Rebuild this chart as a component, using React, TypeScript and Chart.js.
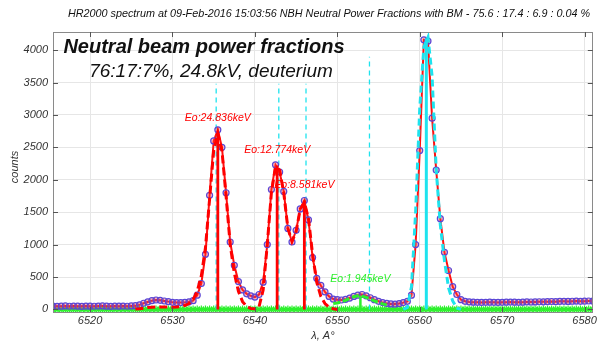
import React, { useEffect, useRef } from "react";
import { Chart, registerables } from "chart.js";

Chart.register(...registerables);

// Measured spectrum (wavelength in Angstrom, counts)
const spectrumLambda = [
  6515.5, 6516.0, 6516.5, 6517.0, 6517.5, 6518.0, 6518.5, 6519.0, 6519.5, 6520.0,
  6520.5, 6521.0, 6521.5, 6522.0, 6522.5, 6523.0, 6523.5, 6524.0, 6524.5, 6525.0,
  6525.5, 6526.0, 6526.5, 6527.0, 6527.5, 6528.0, 6528.5, 6529.0, 6529.5, 6530.0,
  6530.5, 6531.0, 6531.5, 6532.0, 6532.5, 6533.0, 6533.5, 6534.0, 6534.5, 6535.0,
  6535.5, 6536.0, 6536.5, 6537.0, 6537.5, 6538.0, 6538.5, 6539.0, 6539.5, 6540.0,
  6540.5, 6541.0, 6541.5, 6542.0, 6542.5, 6543.0, 6543.5, 6544.0, 6544.5, 6545.0,
  6545.5, 6546.0, 6546.5, 6547.0, 6547.5, 6548.0, 6548.5, 6549.0, 6549.5, 6550.0,
  6550.5, 6551.0, 6551.5, 6552.0, 6552.5, 6553.0, 6553.5, 6554.0, 6554.5, 6555.0,
  6555.5, 6556.0, 6556.5, 6557.0, 6557.5, 6558.0, 6558.5, 6559.0, 6559.5, 6560.0,
  6560.5, 6561.0, 6561.5, 6562.0, 6562.5, 6563.0, 6563.5, 6564.0, 6564.5, 6565.0,
  6565.5, 6566.0, 6566.5, 6567.0, 6567.5, 6568.0, 6568.5, 6569.0, 6569.5, 6570.0,
  6570.5, 6571.0, 6571.5, 6572.0, 6572.5, 6573.0, 6573.5, 6574.0, 6574.5, 6575.0,
  6575.5, 6576.0, 6576.5, 6577.0, 6577.5, 6578.0, 6578.5, 6579.0, 6579.5, 6580.0,
  6580.5, 6581.0,
];
const spectrumCounts = [
  52, 48, 50, 53, 49, 51, 50, 47, 52, 50,
  49, 51, 53, 50, 48, 52, 50, 51, 49, 53,
  58, 70, 95, 115, 135, 145, 140, 130, 120, 110,
  105, 105, 108, 117, 135, 220, 400, 850, 1760, 2600,
  2770, 2500, 1800, 1040, 680, 430, 300, 240, 210, 190,
  230, 420, 1000, 1850, 2230, 2120, 1820, 1250, 1040, 1220,
  1550, 1680, 1380, 800, 480, 370, 270, 200, 160, 150,
  145, 155, 175, 200, 220, 230, 210, 180, 150, 125,
  105, 93, 85, 82, 90, 105, 125, 220, 1000, 2450,
  4160, 4140, 2950, 2150, 1400, 880, 600, 350, 230, 150,
  125, 115, 112, 110, 108, 110, 112, 110, 108, 110,
  111, 113, 112, 110, 112, 115, 114, 116, 118, 117,
  120, 122, 120, 124, 125, 123, 126, 128, 125, 127,
  130, 128,
];
// Zero baseline (green stars)
const baselineCounts = [
  0, 0, 0, 0, 0, 0, 0, 0, 0, 0,
  0, 0, 0, 0, 0, 0, 0, 0, 0, 0,
  0, 0, 0, 0, 0, 0, 0, 0, 0, 0,
  0, 0, 0, 0, 0, 0, 0, 0, 0, 0,
  0, 0, 0, 0, 0, 0, 0, 0, 0, 0,
  0, 0, 0, 0, 0, 0, 0, 0, 0, 0,
  0, 0, 0, 0, 0, 0, 0, 0, 0, 0,
  0, 0, 0, 0, 0, 0, 0, 0, 0, 0,
  0, 0, 0, 0, 0, 0, 0, 0, 0, 0,
  0, 0, 0, 0, 0, 0, 0, 0, 0, 0,
  0, 0, 0, 0, 0, 0, 0, 0, 0, 0,
  0, 0, 0, 0, 0, 0, 0, 0, 0, 0,
  0, 0, 0, 0, 0, 0, 0, 0, 0, 0,
  0, 0,
];

// Beam components fit (red dashed)
const beamFitLambda = [
  6525.5, 6526.0, 6526.5, 6527.0, 6527.5, 6528.0, 6528.5, 6529.0, 6529.5, 6530.0,
  6530.5, 6531.0, 6531.5, 6532.0, 6532.5, 6533.0, 6533.5, 6534.0, 6534.5, 6535.0,
  6535.5, 6536.0, 6536.5, 6537.0, 6537.5, 6538.0, 6538.5, 6539.0, 6539.5, 6540.0,
  6540.5, 6541.0, 6541.5, 6542.0, 6542.5, 6543.0, 6543.5, 6544.0, 6544.5, 6545.0,
  6545.5, 6546.0, 6546.5, 6547.0, 6547.5, 6548.0, 6548.5, 6549.0, 6549.5, 6550.0,
];
const beamFitCounts = [
  5, 10, 20, 30, 35, 38, 38, 36, 35, 35,
  38, 45, 60, 90, 150, 280, 520, 950, 1700, 2450,
  2720, 2450, 1750, 1000, 560, 280, 120, 45, 15, 10,
  40, 300, 1000, 1800, 2200, 2150, 1800, 1250, 1050, 1200,
  1550, 1650, 1400, 850, 420, 200, 90, 35, 10, 0,
];

// D-alpha fit (cyan dashed)
const alphaFitLambda = [
  6558.0, 6558.5, 6559.0, 6559.5, 6560.0, 6560.5, 6561.0, 6561.5,
  6562.0, 6562.5, 6563.0, 6563.5, 6564.0, 6564.5, 6565.0,
];
const alphaFitCounts = [
  0, 30, 350, 1500, 3100, 4050, 4200, 3600,
  2150, 1300, 750, 330, 130, 20, 0,
];

// Low energy component fit (green)
const lowFitLambda = [
  6549.5, 6550.0, 6550.5, 6551.0, 6551.5, 6552.0, 6552.5,
  6553.0, 6553.5, 6554.0, 6554.5, 6555.0, 6555.5, 6556.0,
];
const lowFitCounts = [
  90, 100, 115, 140, 170, 195, 210,
  205, 185, 160, 130, 105, 85, 70,
];

// Fitted peak centres
const peakLambda = [6535.5, 6542.7, 6546.0];
const peakCounts = [2720, 2220, 1680];
const peakLabels = ["Eo:24.836keV", "Eo:12.774keV", "Eo:8.581keV"];
const expectedLambda = [6535.3, 6542.9, 6546.2, 6553.9];
const expectedCounts = [3480, 3480, 3480, 3900];
const alphaLambda = [6560.8];
const alphaCounts = [4180];
const lowLambda = [6552.8];
const lowCounts = [210];
const lowLabels = ["Eo:1.945keV"];

const xTicks = [6520, 6530, 6540, 6550, 6560, 6570, 6580];
const yTicks = [0, 500, 1000, 1500, 2000, 2500, 3000, 3500, 4000];

const titleText =
  "HR2000 spectrum at 09-Feb-2016 15:03:56 NBH Neutral Power Fractions with BM - 75.6 : 17.4 : 6.9 : 0.04 %";
const headline = "Neutral beam power fractions";
const subline = "76:17:7%, 24.8kV, deuterium";
const xTitle = "λ, A°";
const yTitle = "counts";

const FONT = '"Liberation Sans", Arial, sans-serif';
const RED = "#ff0000";
const CYAN = "#1ee3ee";
const GREEN = "#2cf02c";

const pts = (xs: number[], ys: number[]) => xs.map((x, i) => ({ x, y: ys[i] }));
const vline = (x: number, top: number) => [
  { x, y: 0 },
  { x, y: top },
];

const overlay = {
  id: "overlay",
  afterDraw(chart: any) {
    const { ctx, chartArea: a, scales } = chart;
    const xs = scales.x;
    const ys = scales.y;
    ctx.save();
    // frame
    ctx.strokeStyle = "#8a8a8a";
    ctx.lineWidth = 1;
    ctx.strokeRect(Math.round(a.left) + 0.5, Math.round(a.top) + 0.5, Math.round(a.right - a.left) - 1, Math.round(a.bottom - a.top));
    ctx.strokeStyle = "#555";
    ctx.beginPath();
    xTicks.forEach((v) => {
      const px = Math.round(xs.getPixelForValue(v)) + 0.5;
      ctx.moveTo(px, a.bottom);
      ctx.lineTo(px, a.bottom - 5);
      ctx.moveTo(px, a.top);
      ctx.lineTo(px, a.top + 5);
    });
    yTicks.forEach((v) => {
      const py = Math.round(ys.getPixelForValue(v)) + 0.5;
      ctx.moveTo(a.left, py);
      ctx.lineTo(a.left + 5, py);
      ctx.moveTo(a.right, py);
      ctx.lineTo(a.right - 5, py);
    });
    ctx.stroke();

    // tick labels
    ctx.fillStyle = "#333";
    ctx.font = `italic 11px ${FONT}`;
    ctx.textBaseline = "middle";
    ctx.textAlign = "center";
    xTicks.forEach((v) => ctx.fillText(String(v), xs.getPixelForValue(v), a.bottom + 9));
    ctx.textAlign = "right";
    yTicks.forEach((v) => ctx.fillText(String(v), a.left - 5, ys.getPixelForValue(v)));

    // axis titles
    ctx.textAlign = "center";
    ctx.fillText(xTitle, (a.left + a.right) / 2, 336);
    ctx.save();
    ctx.translate(15, 167);
    ctx.rotate(-Math.PI / 2);
    ctx.fillText(yTitle, 0, 0);
    ctx.restore();

    // title
    ctx.fillStyle = "#111";
    ctx.font = `italic 10.8px ${FONT}`;
    ctx.fillText(titleText, 329, 14);

    // headline texts
    ctx.font = `italic bold 20px ${FONT}`;
    ctx.fillText(headline, 204, 47);
    ctx.font = `italic 19px ${FONT}`;
    ctx.fillText(subline, 211, 72);

    // peak labels
    ctx.font = `italic 10.5px ${FONT}`;
    ctx.fillStyle = RED;
    peakLabels.forEach((t, i) => {
      ctx.fillText(t, xs.getPixelForValue(peakLambda[i]), ys.getPixelForValue(peakCounts[i]) - 15);
    });
    ctx.fillStyle = GREEN;
    lowLabels.forEach((t, i) => {
      ctx.fillText(t, xs.getPixelForValue(lowLambda[i]), ys.getPixelForValue(lowCounts[i]) - 17);
    });
    ctx.restore();
  },
};

export default function App() {
  const ref = useRef<HTMLCanvasElement | null>(null);
  useEffect(() => {
    if (!ref.current) return;
    const datasets: any[] = [];
    peakLambda.forEach((x, i) =>
      datasets.push({ data: vline(x, peakCounts[i]), showLine: true, borderColor: RED, borderWidth: 2.8, pointRadius: 0 })
    );
    alphaLambda.forEach((x, i) =>
      datasets.push({ data: vline(x, alphaCounts[i]), showLine: true, borderColor: CYAN, borderWidth: 3, pointRadius: 0 })
    );
    datasets.push({
      data: pts(beamFitLambda, beamFitCounts),
      showLine: true,
      borderColor: RED,
      borderWidth: 3,
      borderDash: [8, 4],
      pointRadius: 0,
    });
    lowLambda.forEach((x, i) =>
      datasets.push({ data: vline(x, lowCounts[i]), showLine: true, borderColor: GREEN, borderWidth: 2.5, pointRadius: 0 })
    );
    datasets.push({
      data: pts(lowFitLambda, lowFitCounts),
      showLine: true,
      borderColor: GREEN,
      borderWidth: 3,
      borderDash: [7, 3],
      pointRadius: 0,
    });
    datasets.push({
      data: pts(alphaFitLambda, alphaFitCounts),
      showLine: true,
      borderColor: CYAN,
      borderWidth: 3,
      borderDash: [7, 4],
      pointRadius: 0,
    });
    datasets.push({
      data: pts(spectrumLambda, spectrumCounts),
      showLine: true,
      borderColor: "#ff1010",
      borderWidth: 2,
      pointRadius: 3,
      pointBorderWidth: 1.2,
      pointBorderColor: "#5a46d6",
      pointBackgroundColor: "rgba(255,60,60,0.35)",
    });
    expectedLambda.forEach((x, i) =>
      datasets.push({
        data: vline(x, expectedCounts[i]),
        showLine: true,
        borderColor: CYAN,
        borderWidth: 1.3,
        borderDash: [5, 4],
        pointRadius: 0,
      })
    );
    datasets.push({
      data: pts(spectrumLambda, baselineCounts),
      showLine: true,
      borderColor: GREEN,
      borderWidth: 2.5,
      pointStyle: "star",
      pointRadius: 3.8,
      pointBorderWidth: 1.2,
      pointBorderColor: GREEN,
    });

    const chart = new Chart(ref.current, {
      type: "scatter",
      data: { datasets },
      options: {
        responsive: false,
        animation: false,
        devicePixelRatio: 1,
        layout: { padding: { top: 32, right: 2, left: 0, bottom: 0 } },
        plugins: { legend: { display: false }, tooltip: { enabled: false }, title: { display: false } },
        elements: { line: { tension: 0 } },
        scales: {
          x: {
            type: "linear",
            min: 6515.5,
            max: 6581.0,
            afterBuildTicks: (s: any) => {
              s.ticks = xTicks.map((v) => ({ value: v }));
            },
            afterFit: (s: any) => {
              s.height = 30;
            },
            ticks: { display: false },
            grid: { color: "#e6e6e6", drawTicks: false },
            border: { display: false },
          },
          y: {
            type: "linear",
            min: -40,
            max: 4280,
            afterBuildTicks: (s: any) => {
              s.ticks = yTicks.map((v) => ({ value: v }));
            },
            afterFit: (s: any) => {
              s.width = 53;
            },
            ticks: { display: false },
            grid: { color: "#e6e6e6", drawTicks: false },
            border: { display: false },
          },
        },
      },
      plugins: [overlay],
    });
    return () => chart.destroy();
  }, []);
  return (
    <div style={{ position: "absolute", left: 0, top: 0, width: 598, height: 342, background: "#fff" }}>
      <canvas ref={ref} width={598} height={342} style={{ display: "block", width: 598, height: 342 }} />
    </div>
  );
}
